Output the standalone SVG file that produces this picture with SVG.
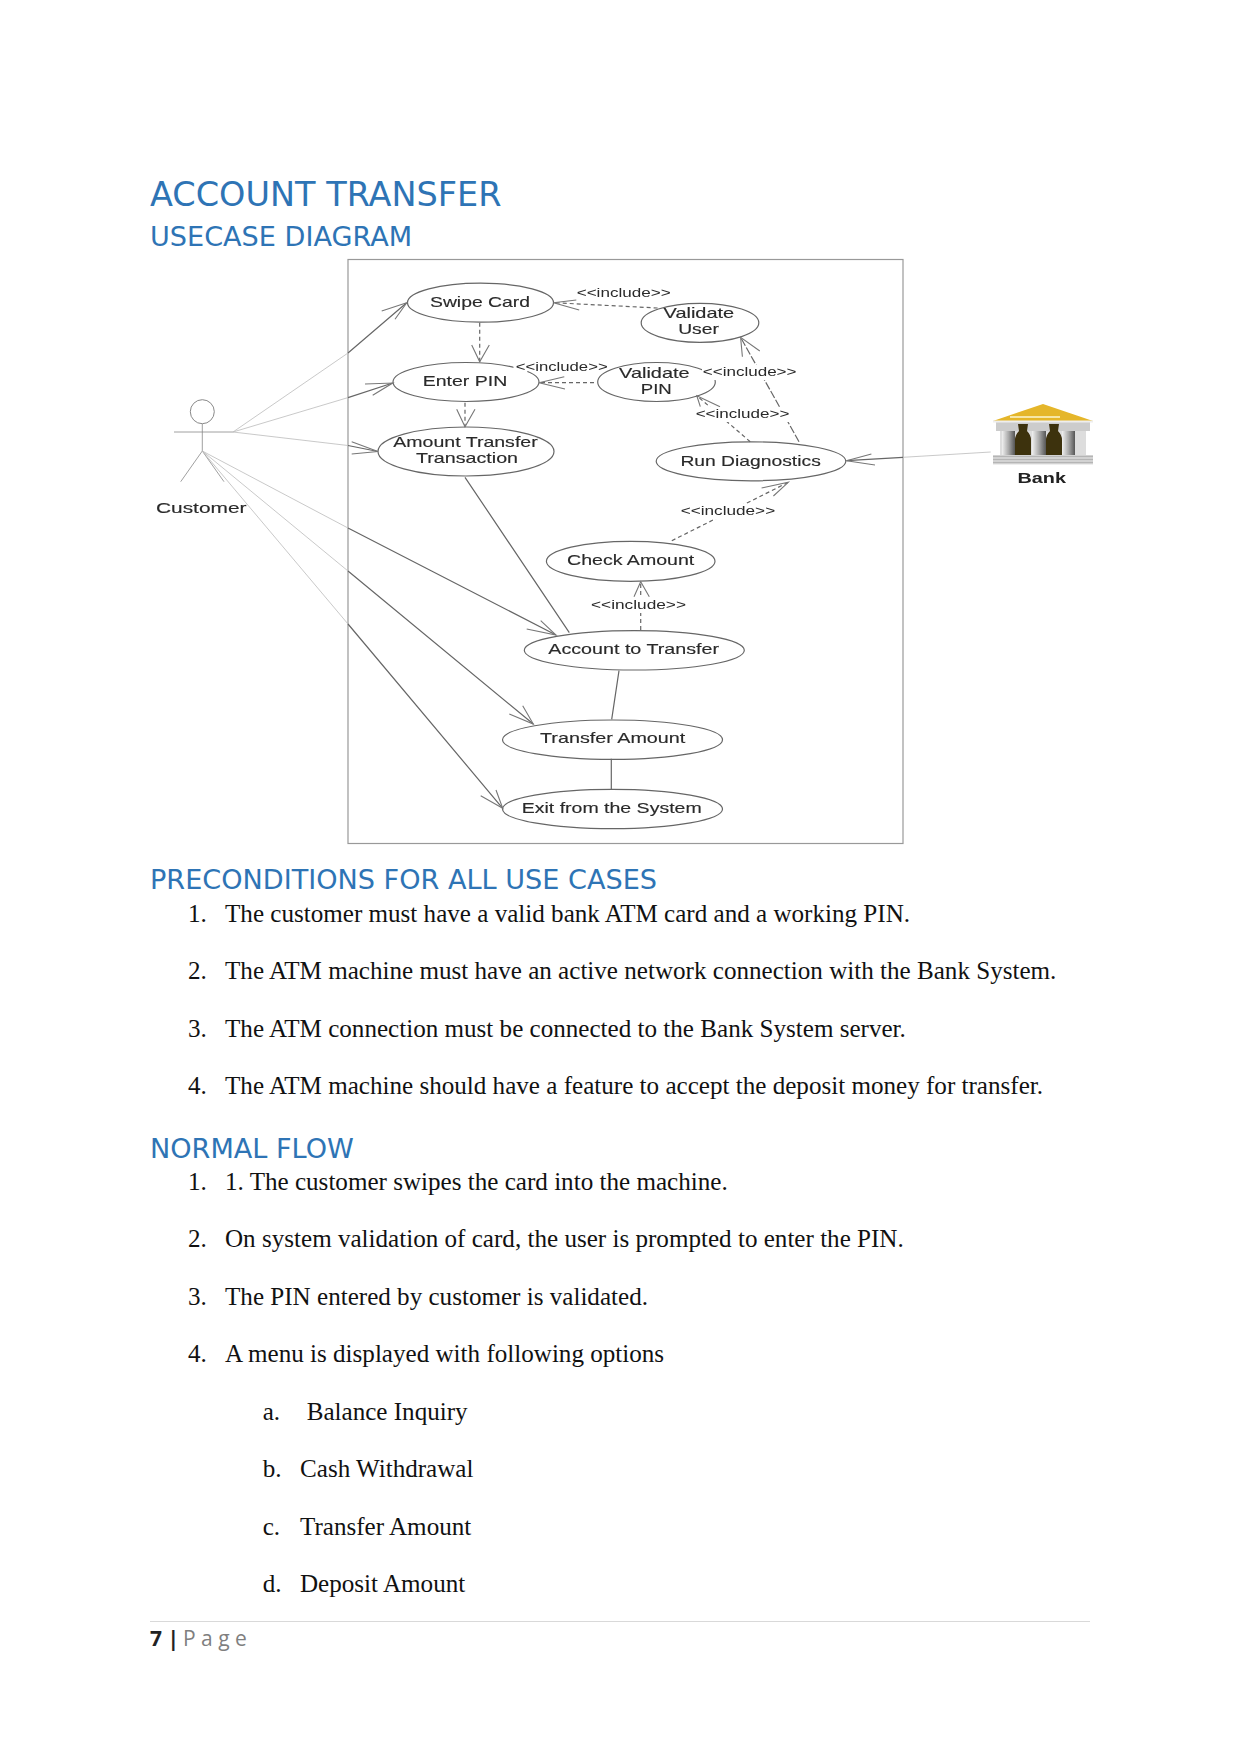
<svg xmlns="http://www.w3.org/2000/svg" width="1241" height="1754" viewBox="0 0 1241 1754">
<style>
.h1{font:33.5px "DejaVu Sans",sans-serif;fill:#2E74B5}
.h2{font:27.1px "DejaVu Sans",sans-serif;fill:#2E74B5}
.b{font:25.1px "Liberation Serif",serif;fill:#111}
.uc{fill:#fff;stroke:#666;stroke-width:1.2}
.t{font:15px "Liberation Sans",sans-serif;fill:#2a2a2a;stroke:#2a2a2a;stroke-width:.15}
.l{font:13.5px "Liberation Sans",sans-serif;fill:#2a2a2a}
.h{stroke:#fff;stroke-width:5;stroke-linejoin:round;paint-order:stroke}
.s{fill:none;stroke:#666;stroke-width:1.2}
.f{fill:none;stroke:#bbb;stroke-width:.8}
.d{fill:none;stroke:#666;stroke-width:1.2;stroke-dasharray:4 3}
.a{fill:none;stroke:#777;stroke-width:1.1}
.w{fill:#fff}
</style>
<defs>
<filter id="soft" x="-5%" y="-5%" width="110%" height="110%"><feGaussianBlur stdDeviation="0.5"/></filter>
<linearGradient id="col" x1="0" x2="1" y1="0" y2="0"><stop offset="0" stop-color="#f0f0f0"/><stop offset=".5" stop-color="#aaa"/><stop offset="1" stop-color="#555"/></linearGradient>
</defs>
<rect width="1241" height="1754" fill="#fff"/>

<g id="headings">
<text class="h1" x="150" y="205.700">ACCOUNT TRANSFER</text>
<text class="h2" x="150" y="245.700">USECASE DIAGRAM</text>
<text class="h2" x="150" y="889">PRECONDITIONS FOR ALL USE CASES</text>
<text class="h2" x="150" y="1158">NORMAL FLOW</text>
</g>

<g id="diagram" filter="url(#soft)">
<rect id="frame" x="348" y="259.500" width="555" height="584" fill="#fff" stroke="#999" stroke-width="1.200"/>

<g id="customer">
<circle cx="202.300" cy="411.700" r="12" fill="#fff" stroke="#888"/>
<path class="f" style="stroke:#888" d="M174 432H233M202.300 424V451M202.300 451L180.700 481.700M202.300 451L224 481.700"/>
<text class="t" x="156" y="513" textLength="90.500" lengthAdjust="spacingAndGlyphs">Customer</text>
</g>
<g id="swipe-card"><ellipse class="uc" cx="480.500" cy="302.700" rx="73" ry="19.500"/><text class="t" x="430" y="307.300" textLength="100" lengthAdjust="spacingAndGlyphs">Swipe Card</text></g>
<g id="enter-pin"><ellipse class="uc" cx="466" cy="382" rx="73" ry="19.500"/><text class="t" x="422.700" y="386" textLength="84.600" lengthAdjust="spacingAndGlyphs">Enter PIN</text></g>
<g id="amount-transfer"><ellipse class="uc" cx="466" cy="451.500" rx="88" ry="24.500"/><text class="t" x="393.300" y="447.300" textLength="144.400" lengthAdjust="spacingAndGlyphs">Amount Transfer</text><text class="t" x="416" y="463.300" textLength="102" lengthAdjust="spacingAndGlyphs">Transaction</text></g>
<g id="validate-user"><ellipse class="uc" cx="700" cy="322.800" rx="58.800" ry="19.500"/><text class="t" x="663.600" y="318.300" textLength="70.600" lengthAdjust="spacingAndGlyphs">Validate</text><text class="t" x="678.200" y="334.300" textLength="40.700" lengthAdjust="spacingAndGlyphs">User</text></g>
<g id="validate-pin"><ellipse class="uc" cx="656.500" cy="382" rx="58.800" ry="19.500"/><text class="t" x="619.100" y="377.700" textLength="70.500" lengthAdjust="spacingAndGlyphs">Validate</text><text class="t" x="640.800" y="393.700" textLength="31" lengthAdjust="spacingAndGlyphs">PIN</text></g>
<g id="run-diagnostics"><ellipse class="uc" cx="751" cy="461.300" rx="94.800" ry="19.500"/><text class="t" x="680.400" y="465.700" textLength="140.400" lengthAdjust="spacingAndGlyphs">Run Diagnostics</text></g>
<g id="check-amount"><ellipse class="uc" cx="630.700" cy="561.300" rx="84.300" ry="20"/><text class="t" x="567" y="564.700" textLength="127.300" lengthAdjust="spacingAndGlyphs">Check Amount</text></g>
<g id="account-to-transfer"><ellipse class="uc" cx="634.300" cy="650.300" rx="110" ry="19.700"/><text class="t" x="548.300" y="654" textLength="170.700" lengthAdjust="spacingAndGlyphs">Account to Transfer</text></g>
<g id="transfer-amount"><ellipse class="uc" cx="612.500" cy="739.700" rx="110" ry="19.700"/><text class="t" x="540" y="743.300" textLength="145.300" lengthAdjust="spacingAndGlyphs">Transfer Amount</text></g>
<g id="exit-system"><ellipse class="uc" cx="612.500" cy="809" rx="110" ry="19.700"/><text class="t" x="521.700" y="812.700" textLength="180" lengthAdjust="spacingAndGlyphs">Exit from the System</text></g>

<g id="bank">
<rect x="996" y="422" width="94" height="9" fill="#ccc"/>
<rect x="1000" y="431" width="86" height="24" fill="#ddd"/>
<rect x="1002" y="431" width="13" height="24" fill="url(#col)"/>
<rect x="1032" y="431" width="14" height="24" fill="url(#col)"/>
<rect x="1062" y="431" width="13" height="24" fill="url(#col)"/>
<path d="M1018 424h10l-1 7q4 4 4 9v15h-16v-15q0-5 4-9zM1049 424h10l-1 7q4 4 4 9v15h-16v-15q0-5 4-9z" fill="#3d3010"/>
<path d="M993 421L1043 404L1093 421Z" fill="#E5B62A"/>
<path d="M1010 417h50" stroke="#f6e6a6" stroke-width="2" fill="none"/>
<path d="M993 421.500H1093" stroke="#eee" stroke-width="2" fill="none"/>
<rect x="993" y="455" width="100" height="9.500" fill="#ddd"/>
<path d="M993 456.500H1093M993 459.500H1093M993 462.500H1093" stroke="#b5b5b5" stroke-width="1.300" fill="none"/>
<text x="1017.500" y="483" textLength="48.500" lengthAdjust="spacingAndGlyphs" style="font:bold 15px 'Liberation Sans',sans-serif;fill:#222">Bank</text>
</g>

<g id="connectors">
<path class="f" d="M233 432L348 353M233 432L348 397.600M233 432L348 445.500M990.700 452L903 457.300"/>
<path class="s" d="M348 353L406.700 302.700M348 397.600L392.700 383M348 445.500L378 451.500M903 457.300L846.400 460.700"/>
<path class="f" d="M202.300 451L348 528M202.300 451L348 571M202.300 451L348 624"/>
<path class="s" d="M348 528L556 635M348 571L533.300 724M348 624L502.700 808.300"/>
<path class="s" d="M465 477.300L569.300 632.700M619 670.700L611.700 719.300M611.300 758.700V789.300"/>
<path class="d" d="M479.700 322.700V361.700M465 402.700V426.700M657.600 308L553.500 302.700M594 382.700H539M750.200 441.700L696.800 395.700M671.800 540.700L788.300 482.300M640.700 630V581.700"/>
<path class="d" style="stroke-dasharray:8 2" d="M799 441.700L740.600 337.300"/>
<path class="a" d="M381.700 311L406.700 302.700L395 319.300M365 384L392.700 383L372.700 395.300M351.700 441.700L378 451.500L351.700 454M540.700 620.700L556 635L526.700 629M522.700 705.700L533.300 724L509.300 714M496 790L502.700 808.300L480.700 795.700M871.400 454L846.400 460.700L875 465"/>
<path class="a" d="M471.700 345L479.700 361.700L489.300 345M456.700 409.300L465 426.700L475 409.300M576.300 300L553.500 302.700L579.200 310M564.300 376.700L539 382.700L565 389M700.300 406.700L696.800 395.700L720 406.700M742.400 356.700L740.600 337.300L759.800 351M761.600 488L788.300 482.300L773.400 496M634 596.700L640.700 581.700L649.300 596.700"/>
<g id="include-labels">
<rect class="w" x="702" y="365" width="95" height="15"/>
<rect class="w" x="695" y="407" width="95" height="15"/>
<rect class="w" x="680" y="504" width="96" height="15"/>
<rect class="w" x="590" y="598" width="97" height="15"/>
<text class="l h" x="576.700" y="296.700" textLength="94" lengthAdjust="spacingAndGlyphs">&lt;&lt;include&gt;&gt;</text>
<text class="l h" x="515.700" y="371" textLength="92" lengthAdjust="spacingAndGlyphs">&lt;&lt;include&gt;&gt;</text>
<text class="l" x="702.800" y="376" textLength="93.700" lengthAdjust="spacingAndGlyphs">&lt;&lt;include&gt;&gt;</text>
<text class="l" x="695.700" y="418.300" textLength="93.700" lengthAdjust="spacingAndGlyphs">&lt;&lt;include&gt;&gt;</text>
<text class="l" x="680.700" y="515" textLength="94.500" lengthAdjust="spacingAndGlyphs">&lt;&lt;include&gt;&gt;</text>
<text class="l" x="591" y="609.300" textLength="95" lengthAdjust="spacingAndGlyphs">&lt;&lt;include&gt;&gt;</text>
</g>
</g>
</g>

<g id="preconditions">
<text class="b" x="188" y="921.700">1.</text><text class="b" x="225" y="921.700">The customer must have a valid bank ATM card and a working PIN.</text>
<text class="b" x="188" y="979">2.</text><text class="b" x="225" y="979">The ATM machine must have an active network connection with the Bank System.</text>
<text class="b" x="188" y="1036.500">3.</text><text class="b" x="225" y="1036.500">The ATM connection must be connected to the Bank System server.</text>
<text class="b" x="188" y="1094">4.</text><text class="b" x="225" y="1094">The ATM machine should have a feature to accept the deposit money for transfer.</text>
</g>
<g id="normal-flow">
<text class="b" x="188" y="1190">1.</text><text class="b" x="225" y="1190">1. The customer swipes the card into the machine.</text>
<text class="b" x="188" y="1247.300">2.</text><text class="b" x="225" y="1247.300">On system validation of card, the user is prompted to enter the PIN.</text>
<text class="b" x="188" y="1305">3.</text><text class="b" x="225" y="1305">The PIN entered by customer is validated.</text>
<text class="b" x="188" y="1362.300">4.</text><text class="b" x="225" y="1362.300">A menu is displayed with following options</text>
<text class="b" x="262.700" y="1420">a.</text><text class="b" x="306.700" y="1420">Balance Inquiry</text>
<text class="b" x="262.700" y="1476.700">b.</text><text class="b" x="300" y="1476.700">Cash Withdrawal</text>
<text class="b" x="262.700" y="1535">c.</text><text class="b" x="300" y="1535">Transfer Amount</text>
<text class="b" x="262.700" y="1591.700">d.</text><text class="b" x="300" y="1591.700">Deposit Amount</text>
</g>
<g id="footer">
<path d="M150 1621.500H1090" stroke="#d9d9d9" stroke-width="1"/>
<text x="150" y="1646.200" style="font:bold 21px 'Open Sans',sans-serif;fill:#222">7 |</text>
<text x="183" y="1646.200" style="font:21px 'Open Sans',sans-serif;fill:#7f7f7f">P a g e</text>
</g>
</svg>
